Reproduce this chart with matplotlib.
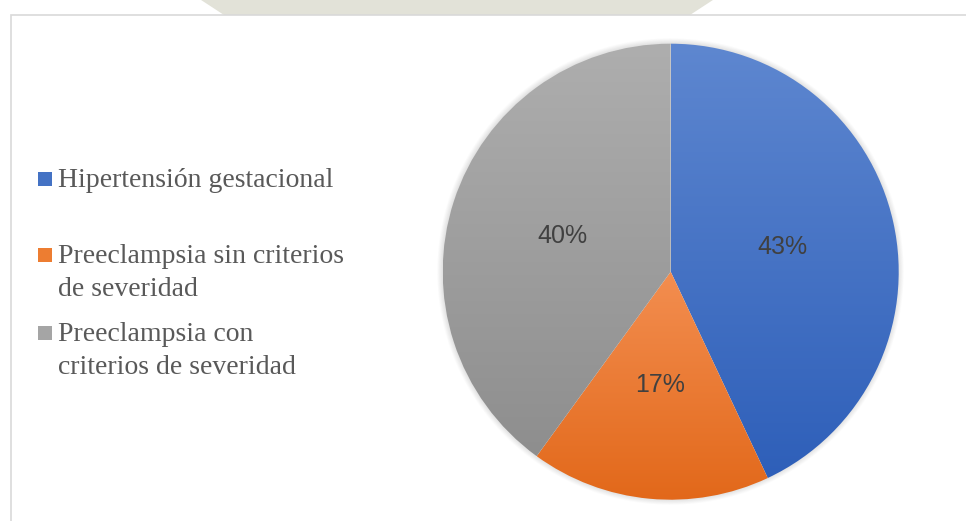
import numpy as np
import matplotlib.pyplot as plt
from matplotlib.patches import Rectangle, Polygon
from matplotlib.colors import LinearSegmentedColormap

# ---------------- data ----------------
categories = ["Hipertensión gestacional",
              "Preeclampsia sin criterios\nde severidad",
              "Preeclampsia con\ncriterios de severidad"]
values = [43, 17, 40]
# gradient (top, bottom) per slice
grad_colors = [("#5e87d0", "#2e5fb9"),
               ("#f38e50", "#e2681a"),
               ("#aeaeae", "#8e8e8e")]
legend_colors = ["#4472c4", "#ed7d31", "#a5a5a5"]
# --------------------------------------

W, H = 966, 521
fig = plt.figure(figsize=(W / 100, H / 100), dpi=100)
fig.patch.set_facecolor("white")

def fx(x):
    return x / W

def fy(y):
    return 1 - y / H

# faint watermark band above the chart frame
wm = Polygon([(fx(198), fy(-2)), (fx(224), fy(15)), (fx(690), fy(15)),
              (fx(716), fy(-2))], closed=True, transform=fig.transFigure,
             facecolor="#e2e2d8", edgecolor="none", zorder=0)
fig.patches.append(wm)

# chart area with light border (right/bottom run off the picture)
frame = Rectangle((fx(10.5), fy(H + 5)), 1.2, fy(14.5) - fy(H + 5),
                  transform=fig.transFigure, facecolor="white",
                  edgecolor="#d9d9d9", linewidth=1.2, zorder=2)
fig.patches.append(frame)

# pie axes placed in pixel space
cx, cy, r, m = 670.7, 271.7, 228, 1.08
ax = fig.add_axes([fx(cx - r * m), (H - cy - r * m) / H,
                   2 * r * m / W, 2 * r * m / H])
ax.set_zorder(3)
ax.patch.set_alpha(0)

wedges, texts, autotexts = ax.pie(values, startangle=90, counterclock=False,
                                  radius=1, autopct="%1.0f%%", pctdistance=0.5,
                                  wedgeprops=dict(linewidth=0))

for w, (top, bot) in zip(wedges, grad_colors):
    w.set_facecolor("none")
    ext = w.get_path().get_extents()
    cmap = LinearSegmentedColormap.from_list("g", [bot, top])
    grad = np.linspace(0, 1, 256).reshape(-1, 1)
    im = ax.imshow(grad, cmap=cmap, origin="lower", aspect="auto",
                   extent=[ext.x0, ext.x1, ext.y0, ext.y1], zorder=1)
    im.set_clip_path(w)

# soft outer shadow around the pie
g = np.linspace(-m, m, 600)
X, Y = np.meshgrid(g, g)
R = np.hypot(X, Y)
alpha = np.where(R >= 0.995, 0.2 * np.clip(1 - (R - 1) / 0.025, 0, 1), 0)
shadow = np.zeros((600, 600, 4))
shadow[..., :3] = 0.4
shadow[..., 3] = alpha
ax.imshow(shadow, extent=[-m, m, -m, m], origin="lower", zorder=0)

for t in autotexts:
    t.set_color("#404040")
    t.set_fontsize(18)
    t.set_family("Liberation Sans")
    t.set_zorder(5)

ax.set_xlim(-m, m)
ax.set_ylim(-m, m)
ax.set_aspect("auto")
ax.axis("off")

# legend on the left (each entry gets a two-line slot, text top-aligned)
baselines = [187, 263, 341]
line_gap = 33
for lab, col, yb in zip(categories, legend_colors, baselines):
    fig.patches.append(Rectangle((fx(38), fy(yb - 1)), 14 / W, 14 / H,
                                 transform=fig.transFigure, facecolor=col,
                                 edgecolor="none", zorder=4))
    for i, line in enumerate(lab.split("\n")):
        fig.text(fx(58), fy(yb + i * line_gap), line, fontsize=20,
                 family="Liberation Serif", color="#595959",
                 ha="left", va="baseline", zorder=5)

fig.savefig("out.png", dpi=100)
